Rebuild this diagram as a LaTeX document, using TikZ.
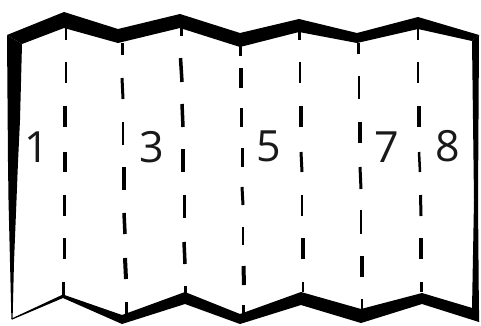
\documentclass[tikz,border=0pt]{standalone}
\usepackage{fontspec}
\setmainfont{Open Sans}
\tikzset{
  nd_num/.style={font=\fontsize{43}{43}\selectfont, inner sep=0pt, text=black!90},
  edge_band/.style={fill=black, draw=none},
  fold_dash/.style={draw=black, line cap=butt},
}
\newcommand{\folddash}[5]{%
  \draw[fold_dash,line width=#5pt] (#1,#2)--(#3,#4);
}

\begin{document}
\begin{tikzpicture}[x=1pt,y=-1pt]

\useasboundingbox (0,0) rectangle (481,325);

%% Top edge
\fill[edge_band] (7,35)--(64,12)--(118,29)--(180,14)--(240,33)--(299,19)--(357,33)
  --(418,17)--(479,35)--(472,41)--(418,29)--(357,43)--(299,32)--(240,47)
  --(180,28)--(118,43)--(64,28)--(22,44)--cycle;

%% Left edge
\fill[edge_band] (7,35)--(22,44)--(20,120)--(18,162)--(16.5,200)--(14,262)--(12.6,319)
  --(11.4,319)--(10,262)--(8.5,200)--(8,162)--cycle;

%% Right edge
\fill[edge_band] (479,35)--(472,41)--(473,120)--(474,200)--(472,309)--(479,322)--(478,200)--cycle;

%% Bottom edge
\fill[edge_band] (11.4,318.6)--(63,294.5)--(122,315)--(185,292)--(240,314)--(301,292)
  --(361,309)--(422,293)--(479,310)--(479,322)--(422,304)--(361,323)--(301,305)
  --(240,324)--(185,304)--(122,324)--(63,298)--(12,319.6)--cycle;

%% Fold 1
\foreach \xa/\ya/\xb/\yb/\w in {66/28/66/40/2.5,66/62/66/83/2.5,65/106/65/127/4,65/152/65/172/4,
  64/195/64/216/3,64/238/64/259/3,63/282/63/295/3}
  {\folddash{\xa}{\ya}{\xb}{\yb}{\w}}

%% Fold 2
\foreach \xa/\ya/\xb/\yb/\w in {122/43/122/55/3,122/78/123/99/3,123/122/123/145/2.5,124/167/124/190/4,
  124/213/125/234/3.5,125/258/126/279/4,126/302/126/315/3}
  {\folddash{\xa}{\ya}{\xb}{\yb}{\w}}

%% Fold 3
\foreach \xa/\ya/\xb/\yb/\w in {181/28/181/36/3,180.5/58/182/82/3.5,182/104/183/127/3.5,183/149/183/172/3.5,
  184/195/184/218/3,184/242/185/264/3.5,185/286/185/294/3}
  {\folddash{\xa}{\ya}{\xb}{\yb}{\w}}

%% Fold 4
\foreach \xa/\ya/\xb/\yb/\w in {240/46/240/56/3,241/68/241/88/3.5,241/108/241/127/3,242/148/242/167/3,
  242/187/243/205/3,243/227/243/245/2.5,243.5/266/244/285/4,243.5/305/243.5/314/3}
  {\folddash{\xa}{\ya}{\xb}{\yb}{\w}}

%% Fold 5
\foreach \xa/\ya/\xb/\yb/\w in {299.5/32/299.5/40/3,300/62/300/83/2.5,301/106/301/127/4,301/152/302/172/3,
  302/195/302/216/2.5,303/238/303/259/4,303/282/303/292/2.5}
  {\folddash{\xa}{\ya}{\xb}{\yb}{\w}}

%% Fold 6
\foreach \xa/\ya/\xb/\yb/\w in {358/43/358/54/3,359/76/359/99/2.5,360/122/360/143/4,360/167/361/189/3,
  361/210/361/234/2.5,362/256/362/277/4,362/299/362/309/2.5}
  {\folddash{\xa}{\ya}{\xb}{\yb}{\w}}

%% Fold 7
\foreach \xa/\ya/\xb/\yb/\w in {418/28/418/40/2.5,418/62/418/83/2.5,419/106/419/127/3.5,419/152/420/172/2.5,
  420.5/195/421/216/3,421/238/421/259/4,421.5/282/421.5/292/2.5}
  {\folddash{\xa}{\ya}{\xb}{\yb}{\w}}

%% Panel numbers
\node[nd_num] at (37,147)  (N1){1};
\node[nd_num] at (152,147) (N3){3};
\node[nd_num] at (268.5,146) (N5){5};
\node[nd_num] at (387,147) (N7){7};
\node[nd_num] at (447.5,146) (N8){8};

\end{tikzpicture}
\end{document}
